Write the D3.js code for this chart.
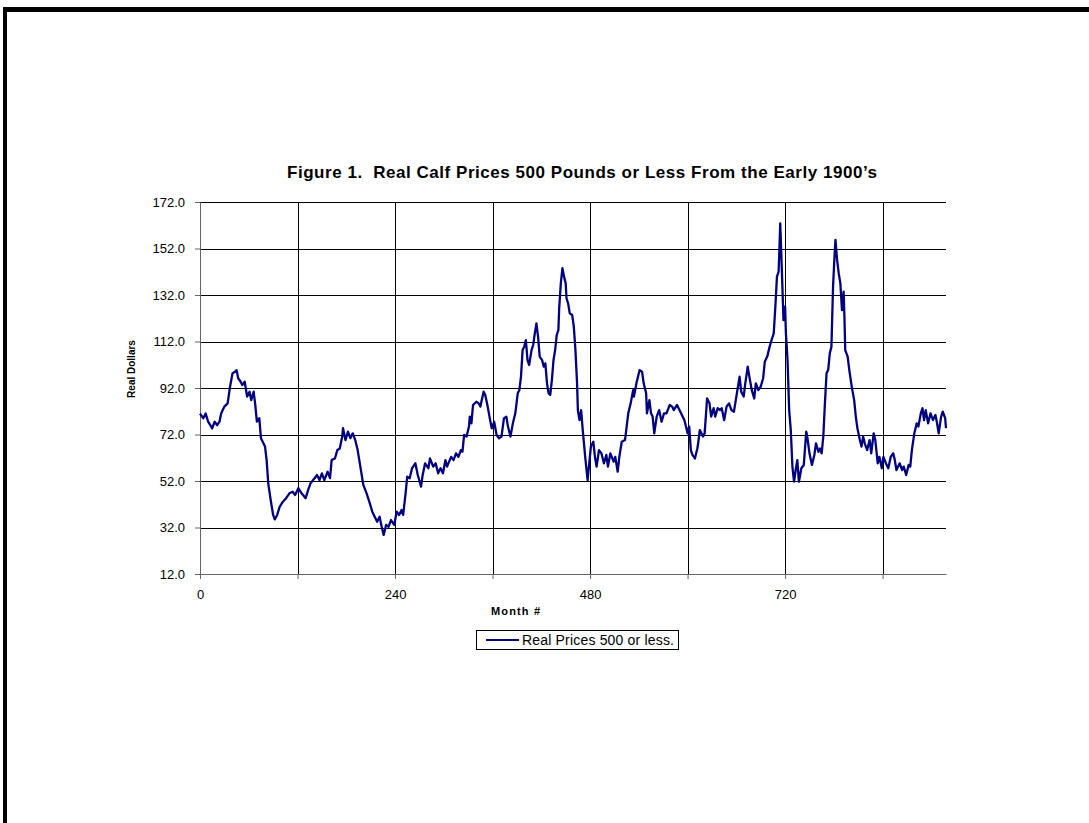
<!DOCTYPE html>
<html>
<head>
<meta charset="utf-8">
<script src="https://cdn.jsdelivr.net/npm/d3@7"></script>
<style>
  body { margin: 0; background: #fff; }
  svg { display: block; font-family: "Liberation Sans", Arial, sans-serif; }
</style>
</head>
<body>
<svg width="1089" height="823"></svg>
<script>
// month number of each read-off point
var months = [
  0,4,7,10,15,18,21,24,26,30,
  34,37,40,43,45,47,50,52,55,58,
  61,63,66,68,70,73,75,80,82,84,
  87,90,92,95,98,102,106,110,114,117,
  121,125,130,133,136,141,144,147,150,153,
  157,160,162,166,169,172,175,176,179,182,
  185,188,191,194,198,201,205,209,212,215,
  218,221,224,226,229,232,235,239,242,245,
  248,250,253,255,258,261,265,268,272,274,
  277,281,283,287,290,293,296,299,302,304,
  309,312,315,318,321,323,325,328,331,332,
  334,336,340,343,345,349,351,354,357,359,
  362,365,368,371,374,377,379,382,385,388,
  391,393,395,397,399,401,403,405,408,410,
  412,414,416,418,421,423,425,427,429,431,
  433,435,437,439,441,442,444,446,448,450,
  451,453,455,458,460,462,464,465,467,469,
  471,474,477,479,481,484,486,488,491,494,
  497,500,502,505,509,511,514,516,519,523,
  527,530,533,534,537,541,544,546,549,550,
  553,555,557,559,562,565,568,571,574,578,
  581,583,587,590,593,596,598,600,602,604,
  606,609,612,613,615,619,621,624,627,629,
  632,634,637,640,642,645,648,651,654,657,
  660,664,666,669,671,674,676,679,682,684,
  687,690,693,695,698,701,704,706,708,710,
  712,713,714,716,718,720,721,723,725,727,
  729,731,733,735,737,740,743,746,747,750,
  753,756,758,761,763,765,767,769,771,773,
  775,777,779,781,782,784,786,788,790,792,
  793,794,797,799,802,805,807,809,812,814,
  816,818,821,824,826,829,831,834,836,839,
  841,844,847,850,853,855,857,861,864,866,
  869,872,874,876,879,882,884,887,889,891,
  893,896,899,902,905,907,909,912,914,917,
  918
];

// real calf prices, 500 pounds or less
var realPrices = [
  81,79,81,77.5,74.6,77.5,76,77.5,81,84,
  85.4,92.6,98.3,99,99.7,96.2,94.7,93.3,94.7,88.3,
  90.4,86.8,90.4,84.7,77.5,79,70.4,66.8,61,51,
  43.8,37.4,35.5,37.4,40.9,43.1,44.6,46.7,47.4,46,
  48.9,46.7,44.6,48.1,51,53.2,54.6,52.4,55.3,52.4,
  56,53.2,61,61.7,65.3,66,71.1,74.7,69.6,73.2,
  70.4,72.5,69.6,65.3,56.7,50.3,46.7,42.4,38.8,36.6,
  34.5,36.6,31.6,28.8,33.1,32.3,35.2,33.1,38.8,37.4,
  39.5,37.4,46.7,53.9,53.2,57.5,59.6,54.6,49.6,54.6,
  59.6,57.5,61.7,58.2,59.6,55.3,57.5,55.3,61,58.2,
  62.4,61,63.9,62.4,65.3,64.6,71.8,71.1,75.4,79.7,
  76.8,84.7,86.1,85.4,84,90.4,89,84,78.2,74.7,
  77.5,71.8,70.4,71.1,78.9,79.7,75.4,71.1,76.8,81.1,
  89.7,91.1,96.9,108.3,109.8,112.6,104,101.9,108.3,110.5,
  115.5,119.8,114.1,105.5,104,101.2,102.6,94,89.7,89,
  95.4,104,108.3,114.8,116.9,126.3,137,143.5,139.9,137,
  130.6,128.4,124.1,123.4,118.4,108.3,94,82.5,78.2,82.5,
  73.9,62.4,52.4,59.6,66.8,68.9,62.4,58.2,65.3,63.9,
  59.6,63.2,58.2,63.9,60.3,62.4,56,62.4,68.9,69.6,
  81.1,85.4,91.1,88.3,94,99.7,99,94,89.7,81.1,
  86.8,81.1,79.7,72.5,79.7,82.5,77.5,81.1,81.1,84.7,
  84,82.5,84.7,82.5,80.4,78.2,75.4,72.5,75.4,65.3,
  63.2,61.7,66,68.2,73.9,71.1,72.5,87.5,85.4,79.7,
  83.3,79.7,83.3,82.5,83.3,78.2,84,85.4,82.5,81.8,
  88.3,96.9,90.4,88.3,94,101.2,96.9,91.1,87.5,94,
  91.1,92.6,96.2,103.3,105.5,109.8,113.4,115.5,127,139.9,
  142,151.4,162.8,142.8,121.2,127,115.5,104,82.5,73.9,
  58.2,51.7,56.7,61,51.7,57.5,58.9,73.2,71.8,63.9,
  58.9,63.2,68.2,64.6,66,63.9,71.1,85.4,98.3,99.7,
  106.9,109.8,135.6,149.9,155.7,147.1,141.3,137,125.5,133.4,
  122.7,108.3,105.5,99.7,92.6,86.8,79.7,74.7,69.6,66.8,
  71.1,68.2,65.3,69.6,63.9,72.5,69.6,59.6,62.4,57.5,
  62.4,59.6,57.5,62.4,63.9,61,56.7,59.6,56.7,58.2,
  54.6,58.9,58.2,65.3,72.5,76.8,75.4,81.1,83.3,78.2,
  82.5,76.8,81.1,78.2,80.4,76.8,72.5,79.7,81.8,79,
  74.7
];

var yTicks = [12, 32, 52, 72, 92, 112, 132, 152, 172];
var xTicks = [0, 120, 240, 360, 480, 600, 720, 840];
var xLabelMonths = [0, 240, 480, 720];
var seriesName = "Real Prices 500 or less.";

var data = months.map(function(m, i) { return {month: m, price: realPrices[i]}; });

var svg = d3.select("svg");

// page frame (top and left edges)
svg.append("rect").attr("x", 3).attr("y", 7).attr("width", 1086).attr("height", 5).attr("fill", "#000");
svg.append("rect").attr("x", 3).attr("y", 7).attr("width", 4).attr("height", 816).attr("fill", "#000");

var plotLeft = 200, plotRight = 946, plotTop = 202, plotBottom = 574;

var x = d3.scaleLinear().domain([0, 918]).range([plotLeft, plotRight]);
var y = d3.scaleLinear().domain([12, 172]).range([plotBottom, plotTop]);

// gridlines
svg.append("g")
  .selectAll("line")
  .data(yTicks.slice(1))
  .enter().append("line")
    .attr("x1", plotLeft).attr("x2", plotRight)
    .attr("y1", function(d) { return Math.round(y(d)) + 0.5; })
    .attr("y2", function(d) { return Math.round(y(d)) + 0.5; })
    .attr("stroke", "#000").attr("stroke-width", 1);

svg.append("g")
  .selectAll("line")
  .data(xTicks.slice(1))
  .enter().append("line")
    .attr("x1", function(d) { return Math.round(x(d)) + 0.5; })
    .attr("x2", function(d) { return Math.round(x(d)) + 0.5; })
    .attr("y1", plotTop).attr("y2", plotBottom)
    .attr("stroke", "#000").attr("stroke-width", 1);

// axes
var yAxis = svg.append("g")
    .attr("transform", "translate(" + plotLeft + ",0)")
    .call(d3.axisLeft(y).tickValues(yTicks).tickFormat(d3.format(".1f"))
      .tickSize(5).tickSizeOuter(0).tickPadding(10));

var xAxis = svg.append("g")
    .attr("transform", "translate(0," + plotBottom + ")")
    .call(d3.axisBottom(x).tickValues(xTicks)
      .tickFormat(function(d) { return xLabelMonths.indexOf(d) >= 0 ? d : ""; })
      .tickSize(5).tickSizeOuter(0).tickPadding(11));

[yAxis, xAxis].forEach(function(a) {
  a.select(".domain").attr("stroke", "#666");
  a.selectAll(".tick line").attr("stroke", "#666");
  a.selectAll("text").attr("font-size", 13).attr("fill", "#000")
    .attr("font-family", "Liberation Sans, Arial, sans-serif");
});

// series
var line = d3.line()
  .x(function(d) { return x(d.month); })
  .y(function(d) { return y(d.price); });

svg.append("path")
  .datum(data)
  .attr("d", line)
  .attr("fill", "none")
  .attr("stroke", "#000080")
  .attr("stroke-width", 2.3)
  .attr("stroke-linejoin", "round");

// titles
svg.append("text")
  .attr("x", 287).attr("y", 178)
  .attr("font-size", 17).attr("font-weight", "bold")
  .attr("textLength", 590).attr("lengthAdjust", "spacing")
  .style("white-space", "pre")
  .text("Figure 1.  Real Calf Prices 500 Pounds or Less From the Early 1900\u2019s");

svg.append("text")
  .attr("transform", "translate(135,369) rotate(-90)")
  .attr("text-anchor", "middle")
  .attr("font-size", 10).attr("font-weight", "bold")
  .text("Real Dollars");

svg.append("text")
  .attr("x", 491).attr("y", 615)
  .attr("font-size", 11).attr("font-weight", "bold")
  .attr("textLength", 49).attr("lengthAdjust", "spacing")
  .text("Month #");

// legend
var legend = svg.append("g");
legend.append("rect")
  .attr("x", 476.5).attr("y", 630.5).attr("width", 202).attr("height", 19)
  .attr("fill", "#fff").attr("stroke", "#000").attr("stroke-width", 1);
legend.append("line")
  .attr("x1", 486).attr("x2", 519).attr("y1", 640).attr("y2", 640)
  .attr("stroke", "#000080").attr("stroke-width", 2);
legend.append("text")
  .attr("x", 522).attr("y", 644.5)
  .attr("font-size", 14)
  .attr("textLength", 152).attr("lengthAdjust", "spacing")
  .text(seriesName);
</script>
</body>
</html>
